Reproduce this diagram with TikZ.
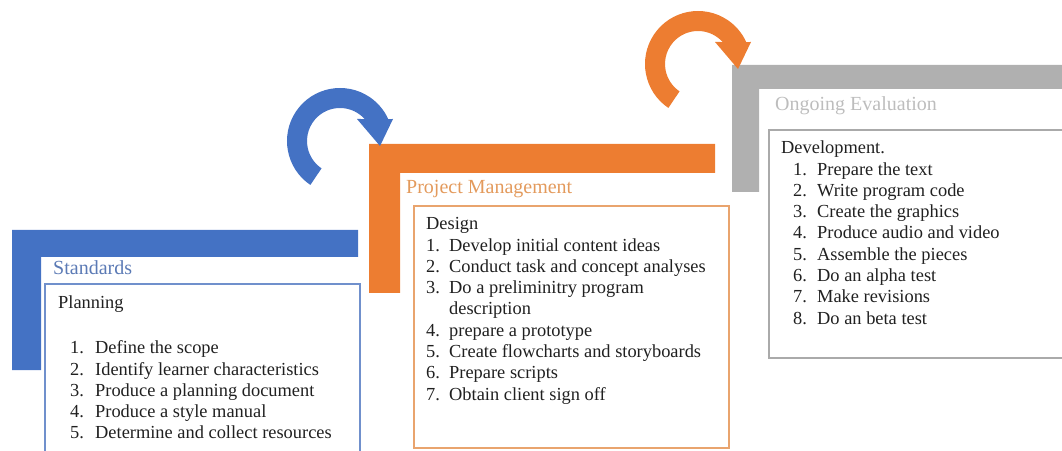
\documentclass[tikz,border=0pt]{standalone}
\usepackage{fontspec}
\setmainfont{Liberation Serif}
\definecolor{stepblue}{HTML}{4472C4}
\definecolor{steporange}{HTML}{ED7D31}
\definecolor{stepgray}{HTML}{B0B0B0}
\definecolor{blueline}{HTML}{7090CC}
\definecolor{orangeline}{HTML}{E9A46E}
\definecolor{grayline}{HTML}{AAAAAA}
\definecolor{bluetitle}{HTML}{5B7AB5}
\definecolor{orangetitle}{HTML}{E39A5C}
\definecolor{graytitle}{HTML}{BDBDBD}
\definecolor{bodytext}{HTML}{202020}
\begin{document}
\begin{tikzpicture}[x=1pt,y=1pt,
  title/.style={anchor=mid west,inner sep=0pt,font=\fontsize{20}{24}\selectfont},
  item/.style={anchor=mid west,inner sep=0pt,text=bodytext,font=\fontsize{18.4}{21.3}\selectfont},
  listbox/.style={draw=#1,line width=1.8pt,anchor=north west,inner sep=0pt},
  turnarrow/.pic={
    \path[pic actions] (236:53) arc[start angle=236,end angle=24.5,radius=53]
      -- (53,22) -- (40,-5) -- (17,22)
      -- (41.8:33) arc[start angle=41.8,end angle=236,radius=33] -- cycle;
  }]
\useasboundingbox (0,0) rectangle (1062,450);
\clip (0,0) rectangle (1062,450);

% step brackets
\fill[stepblue] (12,220) -- (358,220) -- (358,193) -- (41,193) -- (41,80) -- (12,80) -- cycle;
\fill[steporange] (369,306) -- (715,306) -- (715,277) -- (400,277) -- (400,157) -- (369,157) -- cycle;
\fill[stepgray] (732,385) -- (1070,385) -- (1070,361) -- (759,361) -- (759,258) -- (732,258) -- cycle;

% turning arrows between the steps
\pic[fill=stepblue] (turnA) at (340,309) {turnarrow};
\pic[fill=steporange] (turnB) at (698,386) {turnarrow};

% content boxes
\node[listbox=blueline,minimum width=315,minimum height=180] (planbox) at (44,167) {};
\node[listbox=orangeline,minimum width=315,minimum height=242] (designbox) at (413,245) {};
\node[listbox=grayline,minimum width=340,minimum height=228] (devbox) at (768,321) {};

% step titles
\node[title,text=bluetitle] (standards) at (53,178) {Standards};
\node[title,text=orangetitle] (pm) at (406,259) {Project Management};
\node[title,text=graytitle] (oe) at (775,342) {Ongoing Evaluation};

% planning list
\node[item] (planning) at (58,143.5) {Planning};
\foreach \t [count=\i] in {Define the scope,Identify learner characteristics,Produce a planning document,Produce a style manual,Determine and collect resources}
  \node[item] (plan\i) at (70,{98.5-21.3*(\i-1)}) {\makebox[25pt][l]{\i.}\t};

% design list
\node[item] (design) at (426,222.5) {Design};
\foreach \n/\t/\y in {1/Develop initial content ideas/201.2,2/Conduct task and concept analyses/179.9,3/Do a preliminitry program/158.6,4/prepare a prototype/116,5/Create flowcharts and storyboards/94.7,6/Prepare scripts/73.4,7/Obtain client sign off/52.1}
  \node[item] (des\n) at (426,\y) {\makebox[23pt][l]{\n.}\t};
\node[item] (des3b) at (449,137.3) {description};

% development list
\node[item] (development) at (781,298.5) {Development.};
\foreach \t [count=\i] in {Prepare the text,Write program code,Create the graphics,Produce audio and video,Assemble the pieces,Do an alpha test,Make revisions,Do an beta test}
  \node[item] (dev\i) at (793,{277.2-21.3*(\i-1)}) {\makebox[24pt][l]{\i.}\t};
\end{tikzpicture}
\end{document}
